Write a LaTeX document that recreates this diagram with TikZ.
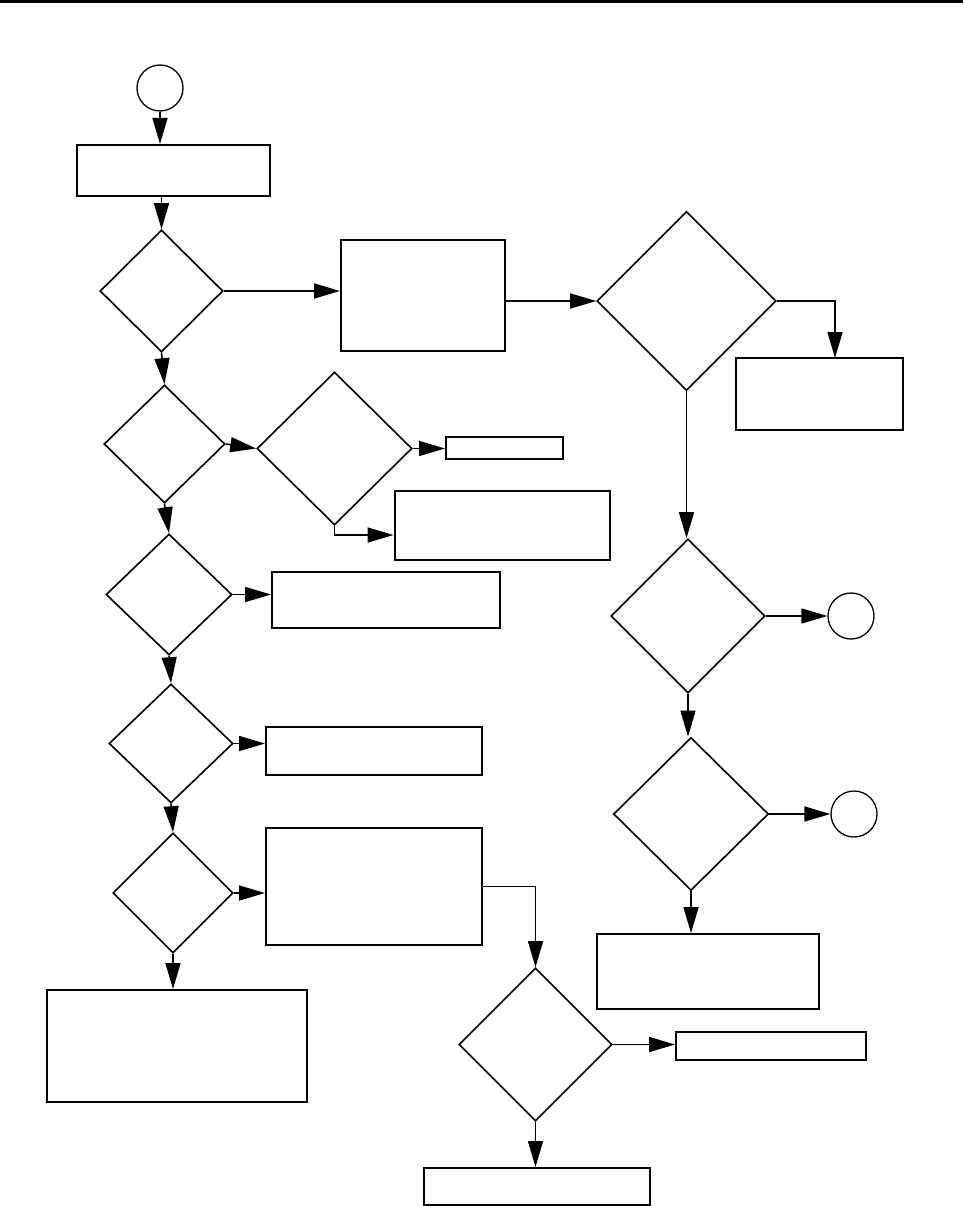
\documentclass[tikz,border=0pt]{standalone}
\usetikzlibrary{shapes.geometric,arrows.meta}
\begin{document}
\begin{tikzpicture}[x=1pt,y=-1pt,
  box/.style={draw,rectangle,line width=2pt,inner sep=0pt},
  dia/.style={draw,diamond,line width=1.6pt,inner sep=0pt},
  term/.style={draw,circle,line width=1.3pt,inner sep=0pt,minimum size=46pt},
  arr/.style={line width=1.6pt,-{Triangle[length=26pt,width=15pt]}}]
\useasboundingbox (0,0) rectangle (963,1206);
\draw[line width=2.6pt] (0,1.3) -- (963,1.3);
% terminals
\node[term] (C1) at (160,88) {};
\node[term] (C2) at (851,616) {};
\node[term] (C3) at (854,814) {};
% boxes
\node[box,minimum width=193pt,minimum height=51pt] (A) at (173.5,170.5) {};
\node[box,minimum width=164pt,minimum height=111pt] (B1) at (423,295.5) {};
\node[box,minimum width=167pt,minimum height=72pt] (R1) at (819.5,394) {};
\node[box,minimum width=222pt,minimum height=75pt] (R2) at (708,971.5) {};
\node[box,minimum width=117pt,minimum height=22pt] (S1) at (504.5,448) {};
\node[box,minimum width=215pt,minimum height=69pt] (S2) at (502,525.5) {};
\node[box,minimum width=228pt,minimum height=56pt] (B4) at (386,600) {};
\node[box,minimum width=216pt,minimum height=48pt] (B5) at (374,751) {};
\node[box,minimum width=216pt,minimum height=117pt] (B6) at (374,886.5) {};
\node[box,minimum width=260pt,minimum height=112pt] (B7) at (177,1046) {};
\node[box,minimum width=190pt,minimum height=28pt] (B8) at (771,1046) {};
\node[box,minimum width=226pt,minimum height=37pt] (B9) at (537,1186.5) {};
% diamonds
\node[dia,minimum width=123pt,minimum height=122pt] (D1) at (161.5,291) {};
\node[dia,minimum width=121pt,minimum height=118pt] (D2) at (164.5,444) {};
\node[dia,minimum width=155pt,minimum height=153pt] (D3) at (334.5,448.5) {};
\node[dia,minimum width=126pt,minimum height=121pt] (D4) at (169,594.5) {};
\node[dia,minimum width=124pt,minimum height=119pt] (D5) at (171,743.5) {};
\node[dia,minimum width=120pt,minimum height=120pt] (D6) at (173,893) {};
\node[dia,minimum width=153pt,minimum height=153pt] (D7) at (535.5,1044.5) {};
\node[dia,minimum width=179pt,minimum height=179pt] (DR1) at (686.5,301) {};
\node[dia,minimum width=154pt,minimum height=154pt] (DR2) at (688,616) {};
\node[dia,minimum width=155pt,minimum height=153pt] (DR3) at (691,814) {};
\coordinate (R1in) at (835,358);
% connectors
\draw[arr] (C1.south) -- (C1.south |- A.north);
\draw[arr] (A.south -| D1.north) -- (D1.north);
\draw[arr] (D1.east) -- (D1.east -| B1.west);
\draw[arr] (D1.south) -- (D2.north);
\draw[arr] (D2.east) -- (D3.west);
\draw[arr] (D3.east) -- (D3.east -| S1.west);
\draw[arr] (D3.south) |- (S2.west |- 0,535);
\draw[arr] (D2.south) -- (D4.north);
\draw[arr] (D4.east) -- (D4.east -| B4.west);
\draw[arr] (D4.south) -- (D5.north);
\draw[arr] (D5.east) -- (D5.east -| B5.west);
\draw[arr] (D5.south) -- (D6.north);
\draw[arr] (D6.east) -- (D6.east -| B6.west);
\draw[arr] (D6.south) -- (D6.south |- B7.north);
\draw[arr] (B6.east) -| (D7.north);
\draw[arr] (D7.east) -- (D7.east -| B8.west);
\draw[arr] (D7.south) -- (D7.south |- B9.north);
\draw[arr] (B1.east |- DR1.west) -- (DR1.west);
\draw[arr] (DR1.east) -| (R1in);
\draw[arr] (DR1.south) -- (DR1.south |- DR2.north);
\draw[arr] (DR2.east) -- (C2.west);
\draw[arr] (DR2.south) -- (DR2.south |- DR3.north);
\draw[arr] (DR3.east) -- (C3.west);
\draw[arr] (DR3.south) -- (DR3.south |- R2.north);
\end{tikzpicture}
\end{document}
